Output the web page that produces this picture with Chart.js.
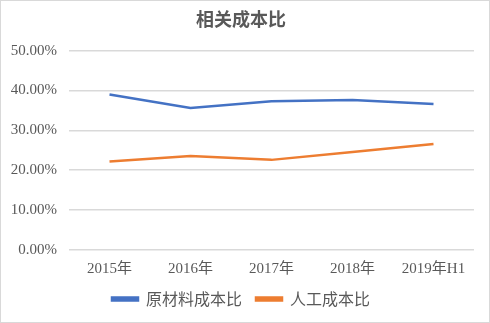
<!DOCTYPE html>
<html>
<head>
<meta charset="utf-8">
<script src="https://cdn.jsdelivr.net/npm/chart.js@4/dist/chart.umd.min.js"></script>
<style>
  html, body { margin: 0; padding: 0; background: #fff; }
  #wrap { width: 490px; height: 323px; }
</style>
</head>
<body>
<div id="wrap"><canvas id="costChart" width="490" height="323"></canvas></div>
<script>
// categories and series (percent)
const years = ['2015年', '2016年', '2017年', '2018年', '2019年H1'];
const materialRatio = [39.0, 35.6, 37.3, 37.6, 36.6];
const laborRatio = [22.2, 23.6, 22.6, 24.6, 26.6];
const yTicks = [0, 10, 20, 30, 40, 50];

const textColor = '#595959';
const tickFont = { family: '"Liberation Serif", "Noto Sans CJK SC", serif', size: 15, lineHeight: 1 };

// thin frame round the whole chart
const framePlugin = {
  id: 'frame',
  afterDraw(chart) {
    const ctx = chart.ctx;
    ctx.save();
    ctx.strokeStyle = '#d9d9d9';
    ctx.lineWidth = 1;
    ctx.strokeRect(0.5, 0.5, chart.width - 1, chart.height - 1);
    ctx.restore();
  }
};

new Chart(document.getElementById('costChart'), {
  type: 'line',
  data: {
    labels: years,
    datasets: [{
      label: '原材料成本比',
      data: materialRatio,
      borderColor: '#4472C4',
      backgroundColor: '#4472C4',
      borderWidth: 2.5,
      pointRadius: 0,
      tension: 0
    },
    {
      label: '人工成本比',
      data: laborRatio,
      borderColor: '#ED7D31',
      backgroundColor: '#ED7D31',
      borderWidth: 2.5,
      pointRadius: 0,
      tension: 0
    }]
  },
  plugins: [framePlugin],
  options: {
    responsive: false,
    animation: false,
    devicePixelRatio: 1,
    layout: { padding: { left: 8, right: 16, top: 0, bottom: 6 } },
    plugins: {
      title: {
        display: true,
        text: '相关成本比',
        color: textColor,
        font: { family: '"Noto Sans CJK SC", sans-serif', size: 18, weight: 'bold' },
        padding: { top: 8, bottom: 21 }
      },
      legend: {
        position: 'bottom',
        maxHeight: 40,
        labels: {
          color: textColor,
          font: { family: '"Noto Sans CJK SC", sans-serif', size: 16 },
          boxWidth: 26,
          boxHeight: 3,
          padding: 14
        }
      },
      tooltip: { enabled: false }
    },
    scales: {
      x: {
        offset: true,
        afterFit(axis) { axis.height = 27; },
        grid: { display: false, drawTicks: false },
        border: { display: false },
        ticks: { color: textColor, font: tickFont, padding: 12, maxRotation: 0 }
      },
      y: {
        min: 0,
        max: 50,
        afterBuildTicks(axis) {
          axis.ticks = yTicks.map(v => ({ value: v }));
        },
        afterFit(axis) { axis.width = 61; },
        grid: { color: '#d9d9d9', lineWidth: 1.5, drawTicks: false },
        border: { display: false },
        ticks: {
          color: textColor,
          font: tickFont,
          padding: 12,
          callback: v => v.toFixed(2) + '%'
        }
      }
    }
  }
});
</script>
</body>
</html>
